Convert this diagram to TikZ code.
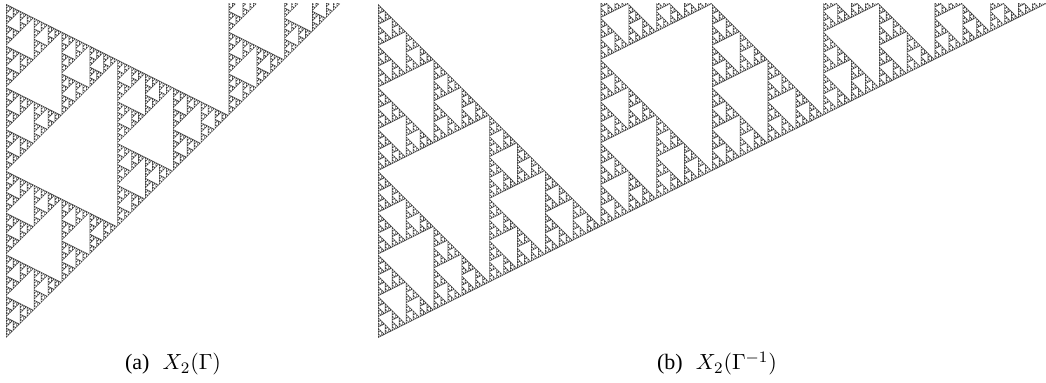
\documentclass[tikz,border=0pt]{standalone}
\usepackage{fontspec}
\setmainfont{Liberation Serif}
\newfontfamily\capfont{Liberation Serif}
\newdimen\sTop
\newif\ifsVis
% Sierpinski triangle by midpoint subdivision: vertices (x1,y1) (x2,y2) (x3,y3), depth
\def\sierp#1#2#3#4#5#6#7{%
  \sVisfalse
  \ifdim #2>\sTop \sVistrue\fi
  \ifdim #4>\sTop \sVistrue\fi
  \ifdim #6>\sTop \sVistrue\fi
  \ifsVis
    \ifnum #7=0
      \pgfpathmoveto{\pgfqpoint{#1}{#2}}%
      \pgfpathlineto{\pgfqpoint{#3}{#4}}%
      \pgfpathlineto{\pgfqpoint{#5}{#6}}%
      \pgfpathclose\pgfusepath{fill}%
    \else
      \edef\sNext{%
        \noexpand\sierp{#1}{#2}{\the\dimexpr(#1+#3)/2}{\the\dimexpr(#2+#4)/2}{\the\dimexpr(#1+#5)/2}{\the\dimexpr(#2+#6)/2}{\the\numexpr#7-1}%
        \noexpand\sierp{\the\dimexpr(#1+#3)/2}{\the\dimexpr(#2+#4)/2}{#3}{#4}{\the\dimexpr(#3+#5)/2}{\the\dimexpr(#4+#6)/2}{\the\numexpr#7-1}%
        \noexpand\sierp{\the\dimexpr(#1+#5)/2}{\the\dimexpr(#2+#6)/2}{\the\dimexpr(#3+#5)/2}{\the\dimexpr(#4+#6)/2}{#5}{#6}{\the\numexpr#7-1}}%
      \sNext
    \fi
  \fi}
\tikzset{caption/.style={anchor=base,inner sep=0pt,font=\capfont\fontsize{11}{13}\selectfont}}
\begin{document}
\begin{tikzpicture}
\useasboundingbox (0,0) rectangle (523pt,191.5pt);
\fill[white] (0,0) rectangle (523pt,191.5pt);
% pixel coordinates (y downward) mapped to the page
\begin{scope}[cm={0.5,0,0,-0.5,(0pt,191.5pt)}]
  \clip (0pt,4pt) rectangle (1046pt,383pt);
  \pgfsetfillcolor{black!75}
  \sTop=4pt
  % (a) X_2(Gamma)
  \sierp{6pt}{4pt}{6pt}{338pt}{228.667pt}{115.333pt}{7}
  \sierp{228.667pt}{-218.667pt}{228.667pt}{115.333pt}{451.333pt}{-107.333pt}{7}
  % (b) X_2(Gamma^{-1})
  \sierp{378pt}{4pt}{378pt}{338pt}{600.667pt}{226.667pt}{7}
  \sierp{600.667pt}{-107.333pt}{600.667pt}{226.667pt}{823.333pt}{115.333pt}{7}
  \sierp{823.333pt}{-218.667pt}{823.333pt}{115.333pt}{1046pt}{4pt}{7}
\end{scope}
\node[caption] (capa) at (86.5pt,6.5pt) {(a)\hspace{0.6em}$X_2(\Gamma)$};
\node[caption] (capb) at (358.5pt,6.5pt) {(b)\hspace{0.6em}$X_2(\Gamma^{-1})$};
\end{tikzpicture}
\end{document}
